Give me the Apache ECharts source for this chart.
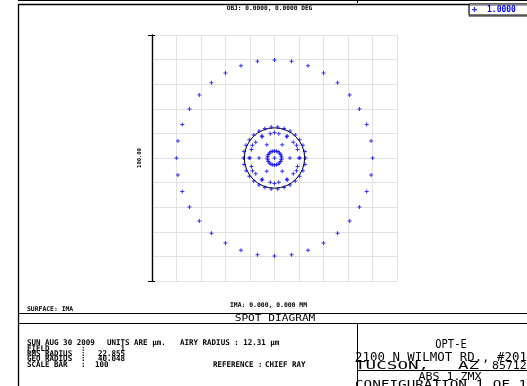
<!DOCTYPE html>
<html>
<head>
<meta charset="utf-8">
<script src="https://cdn.jsdelivr.net/npm/echarts@6/dist/echarts.min.js"></script>
<style>
html,body{margin:0;padding:0;background:#fff;}
#chart{width:527px;height:386px;}
</style>
</head>
<body>
<div id="chart"></div>
<script>
// ---- data (micrometres, degrees) ----
const wavelengthLabel = '1.0000';
const airyRadius = 12.31;
const scaleBar = 100;
const ringRadius = [0, 6.30, 10.37, 10.00, 2.90, 12.70, 40.05];
const ring0Angles = [0];
const ring1Angles = [0, 60, 120, 180, 240, 300];
const ring2Angles = [0, 30, 60, 90, 120, 150, 180, 210, 240, 270, 300, 330];
const ring3Angles = [0, 20, 40, 60, 80, 100, 120, 140, 160, 180, 200, 220, 240, 260, 280, 300, 320, 340];
const ring4Angles = [0, 15, 30, 45, 60, 75, 90, 105, 120, 135, 150, 165, 180, 195, 210, 225, 240, 255, 270, 285, 300, 315, 330, 345];
const ring5Angles = [0, 12, 24, 36, 48, 60, 72, 84, 96, 108, 120, 132, 144, 156, 168, 180, 192, 204, 216, 228, 240, 252, 264, 276, 288, 300, 312, 324, 336, 348];
const ring6Angles = [0, 10, 20, 30, 40, 50, 60, 70, 80, 90, 100, 110, 120, 130, 140, 150, 160, 170, 180, 190, 200, 210, 220, 230, 240, 250, 260, 270, 280, 290, 300, 310, 320, 330, 340, 350];
const axisMin = -50, axisMax = 50, axisStep = 10;
const scaleBarLabel = '100.00';

const ringAngles = [ring0Angles, ring1Angles, ring2Angles, ring3Angles, ring4Angles, ring5Angles, ring6Angles];
const spotData = [];
ringAngles.forEach((angles, i) => angles.forEach(a => spotData.push([ringRadius[i], a])));

const MONO = '"DejaVu Sans Mono", monospace';
const plusPath = 'path://M1.5,0H2.5V1.5H4V2.5H2.5V4H1.5V2.5H0V1.5H1.5Z';

const G = {left: 152, top: 35, width: 245, height: 246};
const cx = G.left + G.width / 2, cy = G.top + G.height / 2;

const chart = echarts.init(document.getElementById('chart'), null, {renderer: 'canvas'});

chart.setOption({
  backgroundColor: '#fff',
  animation: false,
  grid: {left: G.left, top: G.top, width: G.width, height: G.height, containLabel: false},
  xAxis: {
    type: 'value', min: axisMin, max: axisMax, interval: axisStep,
    axisLine: {show: false}, axisTick: {show: false}, axisLabel: {show: false},
    splitLine: {show: true, lineStyle: {color: '#e2e2e2', width: 1}}
  },
  yAxis: [
    {
      type: 'value', min: axisMin, max: axisMax, interval: axisStep,
      axisLine: {show: false}, axisTick: {show: false}, axisLabel: {show: false},
      splitLine: {show: true, lineStyle: {color: '#e2e2e2', width: 1}}
    },
    {
      type: 'value', min: 0, max: scaleBar, interval: scaleBar, position: 'left',
      axisLine: {show: true, onZero: false, lineStyle: {color: '#000', width: 1.4}},
      axisTick: {show: true, inside: false, length: 4, lineStyle: {color: '#000', width: 1}},
      axisLabel: {show: false}, splitLine: {show: false},
      name: scaleBarLabel, nameLocation: 'middle', nameGap: 9, nameRotate: 90,
      nameTextStyle: {fontFamily: MONO, fontSize: 5.5, fontWeight: 'bold', color: '#000'}
    },
    {
      type: 'value', min: 0, max: scaleBar, interval: scaleBar, position: 'left',
      axisLine: {show: false},
      axisTick: {show: true, inside: true, length: 3, lineStyle: {color: '#000', width: 1}},
      axisLabel: {show: false}, splitLine: {show: false}
    }
  ],
  polar: {center: [cx, cy], radius: G.width / 2},
  radiusAxis: {type: 'value', min: 0, max: 50, axisLine: {show: false}, axisTick: {show: false}, axisLabel: {show: false}, splitLine: {show: false}},
  angleAxis: {type: 'value', min: 0, max: 360, startAngle: 0, axisLine: {show: false}, axisTick: {show: false}, axisLabel: {show: false}, splitLine: {show: false}},
  legend: {
    data: [{name: wavelengthLabel, icon: plusPath}],
    left: 469, top: 4, selectedMode: false,
    itemWidth: 15, itemHeight: 5,
    padding: [1, 30, 1, 3],
    backgroundColor: '#fff', borderColor: '#000', borderWidth: 1, borderRadius: 0,
    shadowColor: 'rgba(0,0,0,0.35)', shadowOffsetX: 0, shadowOffsetY: 1.5, shadowBlur: 0,
    textStyle: {color: '#0000ff', fontFamily: MONO, fontSize: 8, fontWeight: 'bold', lineHeight: 9}
  },
  series: [{
    name: wavelengthLabel, type: 'scatter', coordinateSystem: 'polar',
    symbol: plusPath, symbolSize: 4,
    itemStyle: {color: '#0000ff'},
    data: spotData
  }]
});

// ---- graphics: frame, texts, Airy circle ----
const c0 = chart.convertToPixel({gridIndex: 0}, [0, 0]);
const c1 = chart.convertToPixel({gridIndex: 0}, [airyRadius, 0]);
const airyPx = Math.abs(c1[0] - c0[0]);

function L(x1, y1, x2, y2, w) {
  return {type: 'line', silent: true, shape: {x1, y1, x2, y2}, style: {stroke: '#000', lineWidth: w || 1}};
}
function T(text, x, y, size, opts) {
  opts = opts || {};
  const align = opts.align || 'left';
  return {
    type: 'text', silent: true, x, y,
    scaleX: opts.sx || 1, scaleY: opts.sy || 1, rotation: opts.rot || 0,
    style: {
      text, fill: '#000',
      font: (opts.bold ? 'bold ' : '') + size + 'px ' + MONO,
      align, textAlign: align, verticalAlign: 'middle', textVerticalAlign: 'middle'
    }
  };
}

const B = {bold: true, sx: 1.0, sy: 1.05};
const BR = {bold: true, sx: 1.0, sy: 1.05, align: 'right'};
const graphics = [
  // frame
  L(18, 0.5, 527, 0.5, 1),
  L(357.5, 0, 357.5, 3, 1),
  L(18, 4.5, 527, 4.5, 1.3),
  L(18.5, 4, 18.5, 386, 1.3),
  L(18, 313.5, 527, 313.5, 1),
  L(18, 323.5, 527, 323.5, 1),
  L(357.5, 323, 357.5, 386, 1),
  L(357, 370.5, 527, 370.5, 1),
  // Airy disk
  {type: 'circle', silent: true, shape: {cx: c0[0], cy: c0[1], r: airyPx}, style: {fill: 'none', stroke: '#000', lineWidth: 1}},
  // top label
  T('OBJ: 0.0000, 0.0000 DEG', 269.5, 8, 6.2, {bold: true, align: 'center'}),
  // bottom plot labels
  T('SURFACE: IMA', 27, 309.5, 6.4, {bold: true}),
  T('IMA: 0.000, 0.000 MM', 268.5, 305, 6.4, {bold: true, align: 'center'}),
  T('SPOT DIAGRAM', 275, 318.5, 9, {align: 'center', sx: 1.24}),
  // info block
  T('SUN AUG 30 2009', 27, 343, 7.5, B),
  T('UNITS ARE µm.', 107, 343, 7.5, B),
  T('AIRY RADIUS : 12.31 µm', 180, 343, 7.5, B),
  T('FIELD', 27, 349, 7.5, B),
  T(':', 81, 349, 7.5, B),
  T('1', 125, 349, 7.5, BR),
  T('RMS RADIUS', 27, 354.3, 7.5, B),
  T(':', 81, 354.3, 7.5, B),
  T('22.855', 125, 354.3, 7.5, BR),
  T('GEO RADIUS', 27, 359.4, 7.5, B),
  T(':', 81, 359.4, 7.5, B),
  T('40.048', 125, 359.4, 7.5, BR),
  T('SCALE BAR', 27, 364.6, 7.5, B),
  T(':', 81, 364.6, 7.5, B),
  T('100', 95, 364.6, 7.5, B),
  T('REFERENCE', 213, 364.6, 7.5, B),
  T(':', 258, 364.6, 7.5, B),
  T('CHIEF RAY', 265, 364.6, 7.5, B),
  // right panel
  T('OPT-E', 451, 344.5, 13, {align: 'center', sx: 0.8}),
  T('2100 N WILMOT RD., #201', 355, 358, 11.5, {sx: 1.08}),
  T('TUCSON,', 355, 366, 11, {sx: 1.6}),
  T('AZ', 458, 366, 11, {sx: 1.6}),
  T('85712', 492, 366, 11, {sx: 1.05}),
  T('ABS 1.ZMX', 450, 377.5, 11, {align: 'center', sx: 1.06}),
  T('CONFIGURATION 1 OF 1', 355, 385, 11, {sx: 1.3})
];

chart.setOption({graphic: {elements: graphics}});
</script>
</body>
</html>
